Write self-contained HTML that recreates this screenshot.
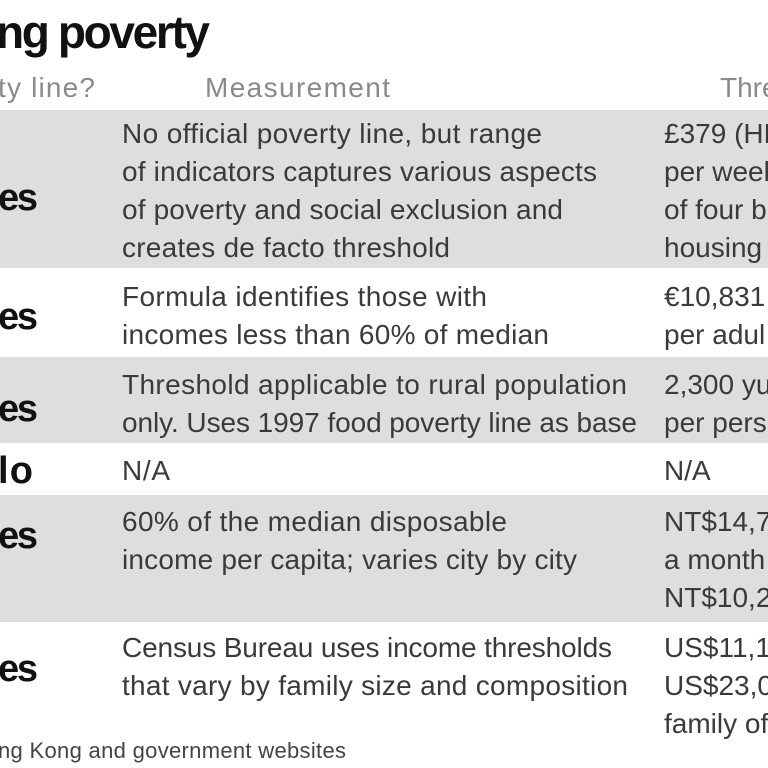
<!DOCTYPE html>
<html><head><meta charset="utf-8"><style>
html,body{margin:0;padding:0;background:#fff;width:768px;height:768px;overflow:hidden}
svg text{font-family:"Liberation Sans Narrow","Liberation Sans",sans-serif}
.t{font-size:28px;fill:#3a3a3a}
.h{font-size:28px;fill:#8a8a8a}
.y{font-size:38px;font-weight:bold;fill:#111}
</style></head><body>
<svg width="768" height="768" viewBox="0 0 768 768">
<rect x="0" y="110" width="768" height="158" fill="#dedede"/>
<rect x="0" y="357" width="768" height="86" fill="#dedede"/>
<rect x="0" y="495" width="768" height="127" fill="#dedede"/>
<text x="-4" y="48" style="font-size:46px;font-weight:bold;fill:#111" textLength="214">ng poverty</text>
<text class="h" x="-2" y="97" textLength="97">ty line?</text>
<text class="h" x="205" y="97" textLength="185">Measurement</text>
<text class="h" x="720" y="97">Thre</text>
<g>
<text class="y" x="-2" y="210" textLength="40">es</text>
<text class="y" x="-2" y="329" textLength="40">es</text>
<text class="y" x="-2" y="421" textLength="40">es</text>
<text class="y" x="-2" y="483" textLength="35">lo</text>
<text class="y" x="-2" y="548" textLength="40">es</text>
<text class="y" x="-2" y="681" textLength="40">es</text>
</g>
<g>
<text class="t" x="122" y="143" textLength="420">No official poverty line, but range</text>
<text class="t" x="122" y="181" textLength="475">of indicators captures various aspects</text>
<text class="t" x="122" y="219" textLength="441">of poverty and social exclusion and</text>
<text class="t" x="122" y="257" textLength="328">creates de facto threshold</text>
<text class="t" x="122" y="306" textLength="365">Formula identifies those with</text>
<text class="t" x="122" y="344" textLength="427">incomes less than 60% of median</text>
<text class="t" x="122" y="394" textLength="505">Threshold applicable to rural population</text>
<text class="t" x="122" y="432" textLength="515">only. Uses 1997 food poverty line as base</text>
<text class="t" x="122" y="480" textLength="48">N/A</text>
<text class="t" x="122" y="531" textLength="385">60% of the median disposable</text>
<text class="t" x="122" y="569" textLength="455">income per capita; varies city by city</text>
<text class="t" x="122" y="657" textLength="490">Census Bureau uses income thresholds</text>
<text class="t" x="122" y="695" textLength="506">that vary by family size and composition</text>
</g>
<g>
<text class="t" x="664" y="143">£379 (HK</text>
<text class="t" x="664" y="181">per week</text>
<text class="t" x="664" y="219">of four b</text>
<text class="t" x="664" y="257">housing</text>
<text class="t" x="664" y="306">€10,831</text>
<text class="t" x="664" y="344">per adul</text>
<text class="t" x="664" y="394">2,300 yu</text>
<text class="t" x="664" y="432">per pers</text>
<text class="t" x="664" y="480">N/A</text>
<text class="t" x="664" y="531">NT$14,79</text>
<text class="t" x="664" y="569">a month</text>
<text class="t" x="664" y="607">NT$10,24</text>
<text class="t" x="664" y="657">US$11,17</text>
<text class="t" x="664" y="695">US$23,0</text>
<text class="t" x="664" y="733">family of</text>
</g>
<text x="-2" y="758" style="font-size:22px;fill:#444" textLength="348">ng Kong and government websites</text>
</svg>
</body></html>
